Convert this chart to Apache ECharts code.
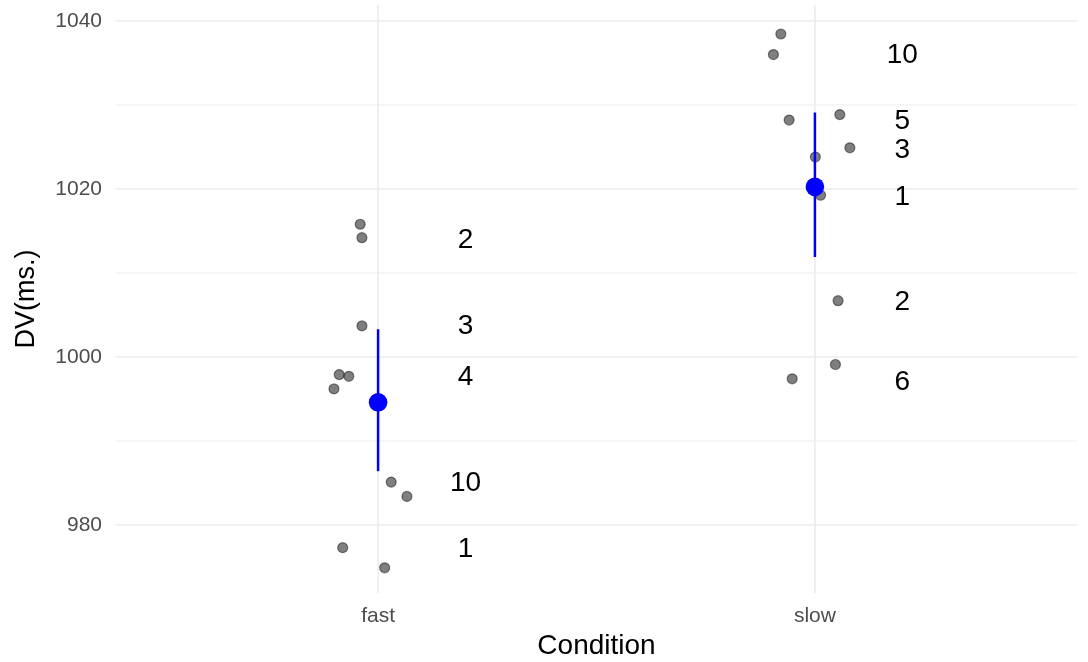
<!DOCTYPE html>
<html>
<head>
<meta charset="utf-8">
<script src="https://cdn.jsdelivr.net/npm/echarts@6/dist/echarts.min.js"></script>
<style>
html,body{margin:0;padding:0;background:#fff;}
#chart{width:1088px;height:662px;}
</style>
</head>
<body>
<div id="chart"></div>
<script>
// ---- data ----
var categories = ['fast', 'slow'];
// jittered raw observations [x, DV]
var fastPoints = [[0.959,1015.8],[0.963,1014.2],[0.963,1003.7],[0.911,997.9],[0.933,997.7],[0.899,996.2],[1.030,985.1],[1.066,983.4],[0.919,977.3],[1.015,974.9]];
var slowPoints = [[1.922,1038.45],[1.905,1036.0],[1.941,1028.2],[2.057,1028.85],[2.080,1024.9],[2.001,1023.8],[2.013,1019.25],[2.053,1006.7],[2.047,999.1],[1.948,997.4]];
// summary: [x, mean, low, high]
var summary = [[1, 994.6, 986.4, 1003.3],[2, 1020.25, 1011.9, 1029.1]];
// count labels
var fastLabelText = ['2','3','4','10','1'];
var fastLabelY = [1013.9,1003.7,997.6,985.0,977.1];
var slowLabelText = ['10','5','3','1','2','6'];
var slowLabelY = [1035.95,1028.1,1024.6,1019.0,1006.5,997.0];
var yTicks = [980,1000,1020,1040];
var yMinor = [990,1010,1030];
var xTicks = [1,2];

var labelOffset = 0.2;
var labelData = [];
fastLabelText.forEach(function(t,i){ labelData.push([1+labelOffset, fastLabelY[i], t]); });
slowLabelText.forEach(function(t,i){ labelData.push([2+labelOffset, slowLabelY[i], t]); });

var gridData = [];
yTicks.forEach(function(v){ gridData.push([0, v, 1]); });
yMinor.forEach(function(v){ gridData.push([0, v, 0]); });
xTicks.forEach(function(v){ gridData.push([1, v, 1]); });

var font = 'Liberation Sans, Arial, Helvetica, sans-serif';
var chart = echarts.init(document.getElementById('chart'), null, {renderer:'canvas'});
chart.setOption({
  animation: false,
  backgroundColor: '#ffffff',
  grid: {left: 116, right: 11, top: 5, bottom: 69, containLabel: false, outerBoundsMode: 'none'},
  xAxis: {
    type: 'value', min: 0.4, max: 2.6,
    name: 'Condition', nameLocation: 'middle', nameGap: 39,
    nameTextStyle: {fontFamily: font, fontSize: 28, color: '#000'},
    axisLine: {show: false}, axisTick: {show: false}, splitLine: {show: false},
    axisLabel: {
      customValues: xTicks, margin: 13,
      fontFamily: font, fontSize: 21, color: '#4d4d4d',
      formatter: function(v){ var r = Math.round(v); return (Math.abs(v-r)<1e-9 && r>=1 && r<=categories.length) ? categories[r-1] : ''; }
    }
  },
  yAxis: {
    type: 'value', min: 971.9, max: 1041.9,
    name: 'DV(ms.)', nameLocation: 'middle', nameGap: 76, nameRotate: 90,
    nameTextStyle: {fontFamily: font, fontSize: 27, color: '#000'},
    axisLine: {show: false}, axisTick: {show: false}, splitLine: {show: false},
    axisLabel: {
      customValues: yTicks, margin: 14,
      fontFamily: font, fontSize: 21, color: '#4d4d4d',
      formatter: function(v){ return yTicks.indexOf(v) >= 0 ? String(v) : ''; }
    }
  },
  series: [
    {
      type: 'custom', silent: true, z: 0,
      data: gridData,
      renderItem: function(params, api){
        var cs = params.coordSys;
        var dir = api.value(0), v = api.value(1), major = api.value(2);
        var shape;
        if (dir === 0) {
          var y = api.coord([1, v])[1];
          shape = {x1: cs.x, y1: y, x2: cs.x + cs.width, y2: y};
        } else {
          var x = api.coord([v, 1000])[0];
          shape = {x1: x, y1: cs.y, x2: x, y2: cs.y + cs.height};
        }
        return {type: 'line', shape: shape, style: {stroke: '#ebebeb', lineWidth: major ? 1.6 : 0.9}};
      }
    },
    {
      type: 'scatter', z: 2, symbolSize: 10,
      data: fastPoints.concat(slowPoints),
      itemStyle: {color: 'rgba(0,0,0,0.5)', borderColor: 'rgba(0,0,0,0.45)', borderWidth: 1.2, opacity: 1}
    },
    {
      type: 'custom', z: 3,
      data: summary,
      renderItem: function(params, api){
        var x = api.value(0);
        var m = api.coord([x, api.value(1)]);
        var lo = api.coord([x, api.value(2)]);
        var hi = api.coord([x, api.value(3)]);
        return {type: 'group', children: [
          {type: 'line', shape: {x1: lo[0], y1: lo[1], x2: hi[0], y2: hi[1]}, style: {stroke: '#0000ff', lineWidth: 2.5}},
          {type: 'circle', shape: {cx: m[0], cy: m[1], r: 9.3}, style: {fill: '#0000ff'}}
        ]};
      }
    },
    {
      type: 'custom', z: 4, silent: true,
      data: labelData,
      dimensions: ['x','y','t'],
      encode: {x: 0, y: 1},
      renderItem: function(params, api){
        var p = api.coord([api.value(0), api.value(1)]);
        var t = labelData[params.dataIndex][2];
        return {type: 'text', x: p[0], y: p[1], style: {text: t, fill: '#000000', font: '28px ' + font, align: 'center', verticalAlign: 'middle'}};
      }
    }
  ]
});
</script>
</body>
</html>
